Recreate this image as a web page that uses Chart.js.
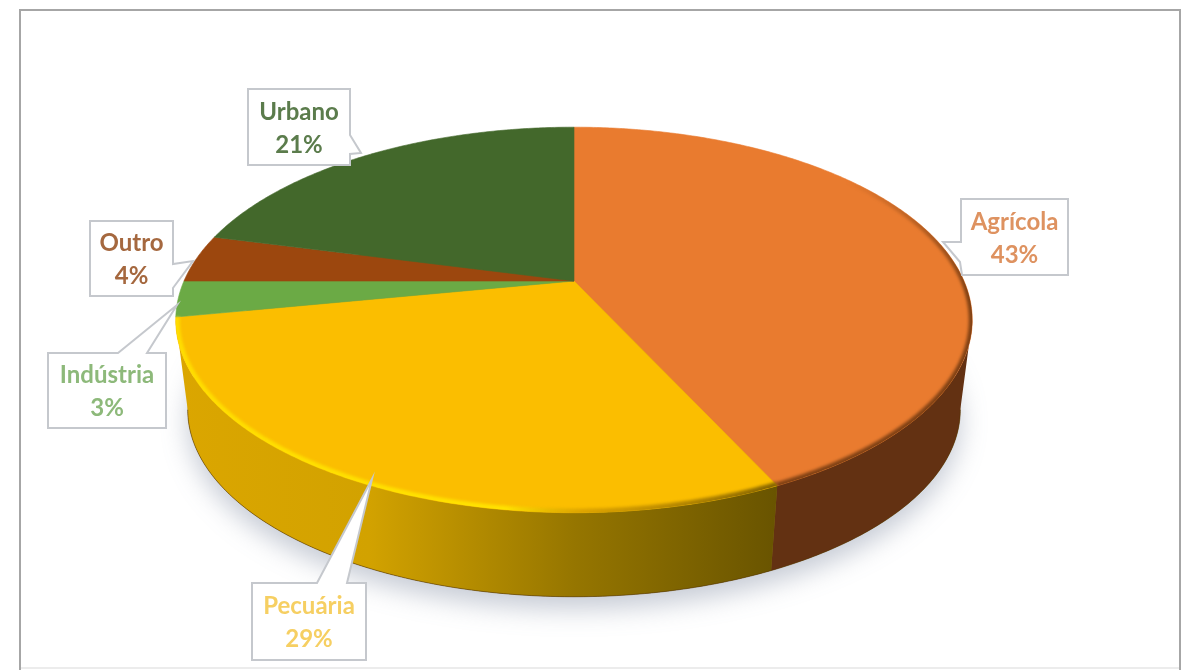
<!DOCTYPE html>
<html>
<head>
<meta charset="utf-8">
<style>
html,body{margin:0;padding:0;background:#fff;overflow:hidden}
canvas{display:block}
</style>
<script src="https://cdn.jsdelivr.net/npm/chart.js@4"></script>
</head>
<body>
<canvas id="pie" width="1191" height="670"></canvas>
<script>
// Land-use shares, clockwise from twelve o'clock
const categories = ['Agrícola', 'Pecuária', 'Indústria', 'Outro', 'Urbano'];
const shares = [43, 29, 3, 4, 21];
const sliceColors = ['#E97B2F', '#FBBE00', '#6BAA45', '#9C470E', '#43682B'];
const labelColors = ['#DE9260', '#F6CF62', '#8DB97A', '#A5683F', '#5B7C4C'];

// Callout outlines, one per category
const callouts = [
  {box:[961,199,1068,275], shape:[[961,199],[1068,199],[1068,275],[962,275],[960,262],[943,242],[961,242]]},
  {box:[252,583,366,660], shape:[[252,583],[317,583],[372,479],[347,583],[366,583],[366,660],[252,660]]},
  {box:[48,353,166,428], shape:[[48,353],[118,353],[177,305],[147,353],[166,353],[166,428],[48,428]]},
  {box:[90,221,173,296], shape:[[90,221],[173,221],[173,264],[193,261],[173,288],[173,296],[90,296]]},
  {box:[248,89,350,165], shape:[[248,89],[350,89],[350,135],[361,153],[350,154],[350,165],[248,165]]}
];

// Perspective disc: k is the foreshortening, the ratios scale the layout radius
const K = 0.202, RX = 1.388, RY = 0.658, LOWER_SCALE = 0.97, LOWER_DROP = 91;

function project(arc, theta, lower) {
  const R = arc.outerRadius, s = lower ? LOWER_SCALE : 1;
  const u = Math.sin(theta), v = -Math.cos(theta), w = 1 - K * v;
  return [arc.x + s * R * RX * u / w,
          arc.y + (lower ? LOWER_DROP : 0) + s * R * RY * v / w];
}

function trace(ctx, arc, from, to, lower, start) {
  const n = Math.max(2, Math.ceil(Math.abs(to - from) / 0.01));
  for (let i = 0; i <= n; i++) {
    const p = project(arc, from + (to - from) * i / n, lower);
    if (i === 0 && start) ctx.moveTo(p[0], p[1]); else ctx.lineTo(p[0], p[1]);
  }
}

const pie3d = {
  id: 'pie3d',
  beforeDatasetsDraw(chart) {
    const ctx = chart.ctx, arcs = chart.getDatasetMeta(0).data;
    const a0 = arcs[0], TAU = Math.PI * 2, HALF = Math.PI / 2;
    const frontA = Math.acos(-K), frontB = TAU - frontA; // silhouette tangents

    // Soft cast shadow under the disc
    ctx.save();
    ctx.shadowColor = 'rgba(120,130,155,0.42)';
    ctx.shadowBlur = 26;
    ctx.shadowOffsetY = 12;
    ctx.fillStyle = '#8a6a20';
    ctx.beginPath();
    trace(ctx, a0, 0, TAU, true, true);
    ctx.closePath();
    ctx.fill();
    ctx.restore();

    // Side wall, darker towards the right
    const yellowWall = ctx.createLinearGradient(178, 0, 776, 0);
    yellowWall.addColorStop(0, '#DBA600');
    yellowWall.addColorStop(0.32, '#D2A200');
    yellowWall.addColorStop(0.66, '#967600');
    yellowWall.addColorStop(1, '#695400');
    const wallFill = [ '#633112', yellowWall, '#5a8a38', '#7a380c', '#34501f' ];
    arcs.forEach((arc, i) => {
      const s = arc.startAngle + HALF, e = arc.endAngle + HALF;
      const from = Math.max(s, frontA), to = Math.min(e, frontB);
      if (to <= from) return;
      ctx.fillStyle = wallFill[i];
      ctx.beginPath();
      trace(ctx, arc, from, to, false, true);
      trace(ctx, arc, to, from, true, false);
      ctx.closePath();
      ctx.fill();
    });

    // Fine dark edge along the foot of the wall
    ctx.strokeStyle = 'rgba(80,50,0,0.55)';
    ctx.lineWidth = 1;
    ctx.beginPath();
    trace(ctx, a0, frontA, frontB, true, true);
    ctx.stroke();

    // Top face
    arcs.forEach(arc => {
      const s = arc.startAngle + HALF, e = arc.endAngle + HALF;
      ctx.fillStyle = arc.options.backgroundColor;
      ctx.strokeStyle = arc.options.backgroundColor;
      ctx.lineWidth = 0.6;
      ctx.beginPath();
      ctx.moveTo(arc.x, arc.y);
      trace(ctx, arc, s, e, false, false);
      ctx.closePath();
      ctx.fill();
      ctx.stroke();
    });

    // Bevel along the rim: bright on the left, dark on the right
    ctx.save();
    ctx.beginPath();
    trace(ctx, a0, 0, TAU, false, true);
    ctx.closePath();
    ctx.clip();
    ctx.filter = 'blur(1.8px)';
    const yellowRim = ctx.createLinearGradient(176, 0, 776, 0);
    yellowRim.addColorStop(0, 'rgba(255,224,0,0.9)');
    yellowRim.addColorStop(0.55, 'rgba(255,226,0,1)');
    yellowRim.addColorStop(0.68, 'rgba(205,150,0,0.7)');
    yellowRim.addColorStop(1, 'rgba(120,90,0,0.9)');
    ctx.strokeStyle = yellowRim;
    ctx.lineWidth = 8;
    ctx.beginPath();
    trace(ctx, a0, arcs[1].startAngle + HALF, arcs[1].endAngle + HALF, false, true);
    ctx.stroke();
    const orangeRim = ctx.createLinearGradient(860, 170, 965, 300);
    orangeRim.addColorStop(0, 'rgba(110,55,15,0)');
    orangeRim.addColorStop(1, 'rgba(110,55,15,0.85)');
    ctx.strokeStyle = orangeRim;
    ctx.lineWidth = 7;
    ctx.beginPath();
    trace(ctx, a0, 0.7, arcs[0].endAngle + HALF, false, true);
    ctx.stroke();
    ctx.restore();

    return false;
  },
  afterDraw(chart) {
    const ctx = chart.ctx;
    // Callout boxes with category and share
    ctx.save();
    categories.forEach((name, i) => {
      const c = callouts[i];
      ctx.beginPath();
      c.shape.forEach((p, j) => j ? ctx.lineTo(p[0], p[1]) : ctx.moveTo(p[0], p[1]));
      ctx.closePath();
      ctx.fillStyle = '#fff';
      ctx.fill();
      ctx.strokeStyle = '#C5C8CD';
      ctx.lineWidth = 2;
      ctx.stroke();
      const mx = (c.box[0] + c.box[2]) / 2, my = (c.box[1] + c.box[3]) / 2;
      ctx.fillStyle = labelColors[i];
      ctx.font = 'bold 24px Lato, "Open Sans", sans-serif';
      ctx.textAlign = 'center';
      ctx.textBaseline = 'middle';
      ctx.fillText(name, mx, my - 15);
      ctx.fillText(shares[i] + '%', mx, my + 18);
    });
    ctx.restore();

    // Chart frame
    ctx.save();
    ctx.strokeStyle = '#A6A6A6';
    ctx.lineWidth = 2;
    ctx.beginPath();
    ctx.moveTo(20, 670); ctx.lineTo(20, 10); ctx.lineTo(1180, 10); ctx.lineTo(1180, 670);
    ctx.stroke();
    ctx.strokeStyle = '#E6E6E6';
    ctx.lineWidth = 1.5;
    ctx.beginPath();
    ctx.moveTo(21, 668); ctx.lineTo(1179, 668);
    ctx.stroke();
    ctx.restore();
  }
};

new Chart(document.getElementById('pie'), {
  type: 'pie',
  data: {
    labels: categories,
    datasets: [{ data: shares, backgroundColor: sliceColors, borderWidth: 0 }]
  },
  options: {
    responsive: false,
    animation: false,
    layout: { padding: { right: 43, bottom: 108 } },
    plugins: { legend: { display: false }, tooltip: { enabled: false } }
  },
  plugins: [pie3d]
});
</script>
</body>
</html>
